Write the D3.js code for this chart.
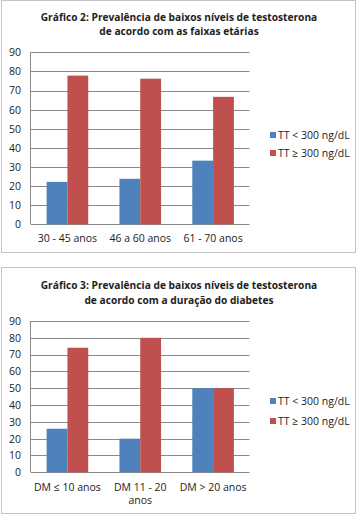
<!DOCTYPE html>
<html>
<head>
<meta charset="utf-8">
<script src="https://cdn.jsdelivr.net/npm/d3@7"></script>
<style>
  body { margin: 0; background: #fff; }
  svg { display: block; font-family: "Open Sans", sans-serif; }
</style>
</head>
<body>
<svg id="chart" width="359" height="517"></svg>
<script>
// data
const seriesNames = ["TT < 300 ng/dL", "TT \u2265 300 ng/dL"]
const seriesColors = ["#4F81BD", "#C0504D"]
const yTicks = [0, 10, 20, 30, 40, 50, 60, 70, 80, 90]

const title2 = ["Gráfico 2: Prevalência de baixos níveis de testosterona", "de acordo com as faixas etárias"]
const ageGroups = [["30 - 45 anos"], ["46 a 60 anos"], ["61 - 70 anos"]]
const ageLow = [22.2, 23.8, 33.3]
const ageHigh = [77.8, 76.2, 66.7]

const title3 = ["Gráfico 3: Prevalência de baixos níveis de testosterona", "de acordo com a duração do diabetes"]
const dmGroups = [["DM \u2264 10 anos"], ["DM 11 - 20", "anos"], ["DM > 20 anos"]]
const dmLow = [25.9, 20, 50]
const dmHigh = [74.1, 80, 50]

function drawChart(cfg) {
    const svg = d3.select('#chart')
    const g = svg.append('g').attr('transform', `translate(0, ${cfg.top})`)

    // outer frame
    g.append('rect')
        .attr('x', 1.5).attr('y', 0.5)
        .attr('width', 354).attr('height', cfg.frameH)
        .attr('fill', '#fff').attr('stroke', '#c4c4c4')

    // title
    g.append('text')
        .attr('text-anchor', 'middle')
        .attr('font-weight', 'bold')
        .attr('font-size', 10.2)
        .attr('fill', '#222')
        .selectAll('tspan').data(cfg.title).join('tspan')
            .attr('x', 179)
            .attr('y', (d, i) => cfg.titleY + i * cfg.titleGap)
            .text(d => d)

    const x0 = d3.scaleBand().domain(d3.range(cfg.cats.length)).range([31, 249.5])
    const x1 = d3.scaleBand().domain([0, 1]).range([0, x0.bandwidth()]).paddingOuter(0.75)
    const y = d3.scaleLinear().domain([0, 90]).range([cfg.y0, cfg.y90])

    // grid
    g.append('g').selectAll('line').data(yTicks).join('line')
        .attr('x1', 31).attr('x2', 249.5)
        .attr('y1', d => Math.round(y(d)) + 0.5).attr('y2', d => Math.round(y(d)) + 0.5)
        .attr('stroke', '#8a8a8a')

    const yAxis = d3.axisLeft(y).tickValues(yTicks).tickSize(0).tickPadding(10)
    const ya = g.append('g').attr('transform', 'translate(31, 0)').call(yAxis)
    ya.select('.domain').remove()
    ya.selectAll('text').attr('font-size', 10.5).attr('fill', '#222').attr('font-family', '"Open Sans", sans-serif')

    // left axis line
    g.append('line')
        .attr('x1', 30.5).attr('x2', 30.5)
        .attr('y1', y(90)).attr('y2', y(0))
        .attr('stroke', '#8a8a8a')

    const rows = cfg.cats.map((c, i) => [cfg.low[i], cfg.high[i]])
    g.append('g').selectAll('g').data(rows).join('g')
        .attr('transform', (d, i) => `translate(${x0(i)}, 0)`)
        .selectAll('rect').data(d => d).join('rect')
            .attr('x', (d, j) => x1(j))
            .attr('width', x1.bandwidth())
            .attr('y', d => y(d))
            .attr('height', d => y(0) - y(d))
            .attr('fill', (d, j) => seriesColors[j])

    // category labels
    g.append('g').selectAll('text').data(cfg.cats).join('text')
        .attr('text-anchor', 'middle')
        .attr('font-size', 10.5)
        .attr('fill', '#222')
        .selectAll('tspan').data((d, i) => d.map(s => [s, i])).join('tspan')
            .attr('x', d => x0(d[1]) + x0.bandwidth() / 2)
            .attr('y', (d, k) => cfg.labelY + k * 13)
            .text(d => d[0])

    // legend
    const lg = g.append('g').selectAll('g').data(seriesNames).join('g')
        .attr('transform', (d, i) => `translate(270, ${cfg.legendY + i * cfg.legendGap})`)
    lg.append('rect').attr('x', 0).attr('y', -7).attr('width', 6).attr('height', 6)
        .attr('fill', (d, i) => seriesColors[i])
    lg.append('text').attr('x', 8).attr('font-size', 10.5).attr('fill', '#222').text(d => d)
}

drawChart({ top: 0, frameH: 252, title: title2, titleY: 20.5, titleGap: 14.5, cats: ageGroups, low: ageLow, high: ageHigh,
    y0: 224.3, y90: 52.3, labelY: 242, legendY: 139, legendGap: 18 })
drawChart({ top: 267, frameH: 246, title: title3, titleY: 22, titleGap: 15, cats: dmGroups, low: dmLow, high: dmHigh,
    y0: 205.3, y90: 54, labelY: 223.5, legendY: 138, legendGap: 20 })
</script>
</body>
</html>
